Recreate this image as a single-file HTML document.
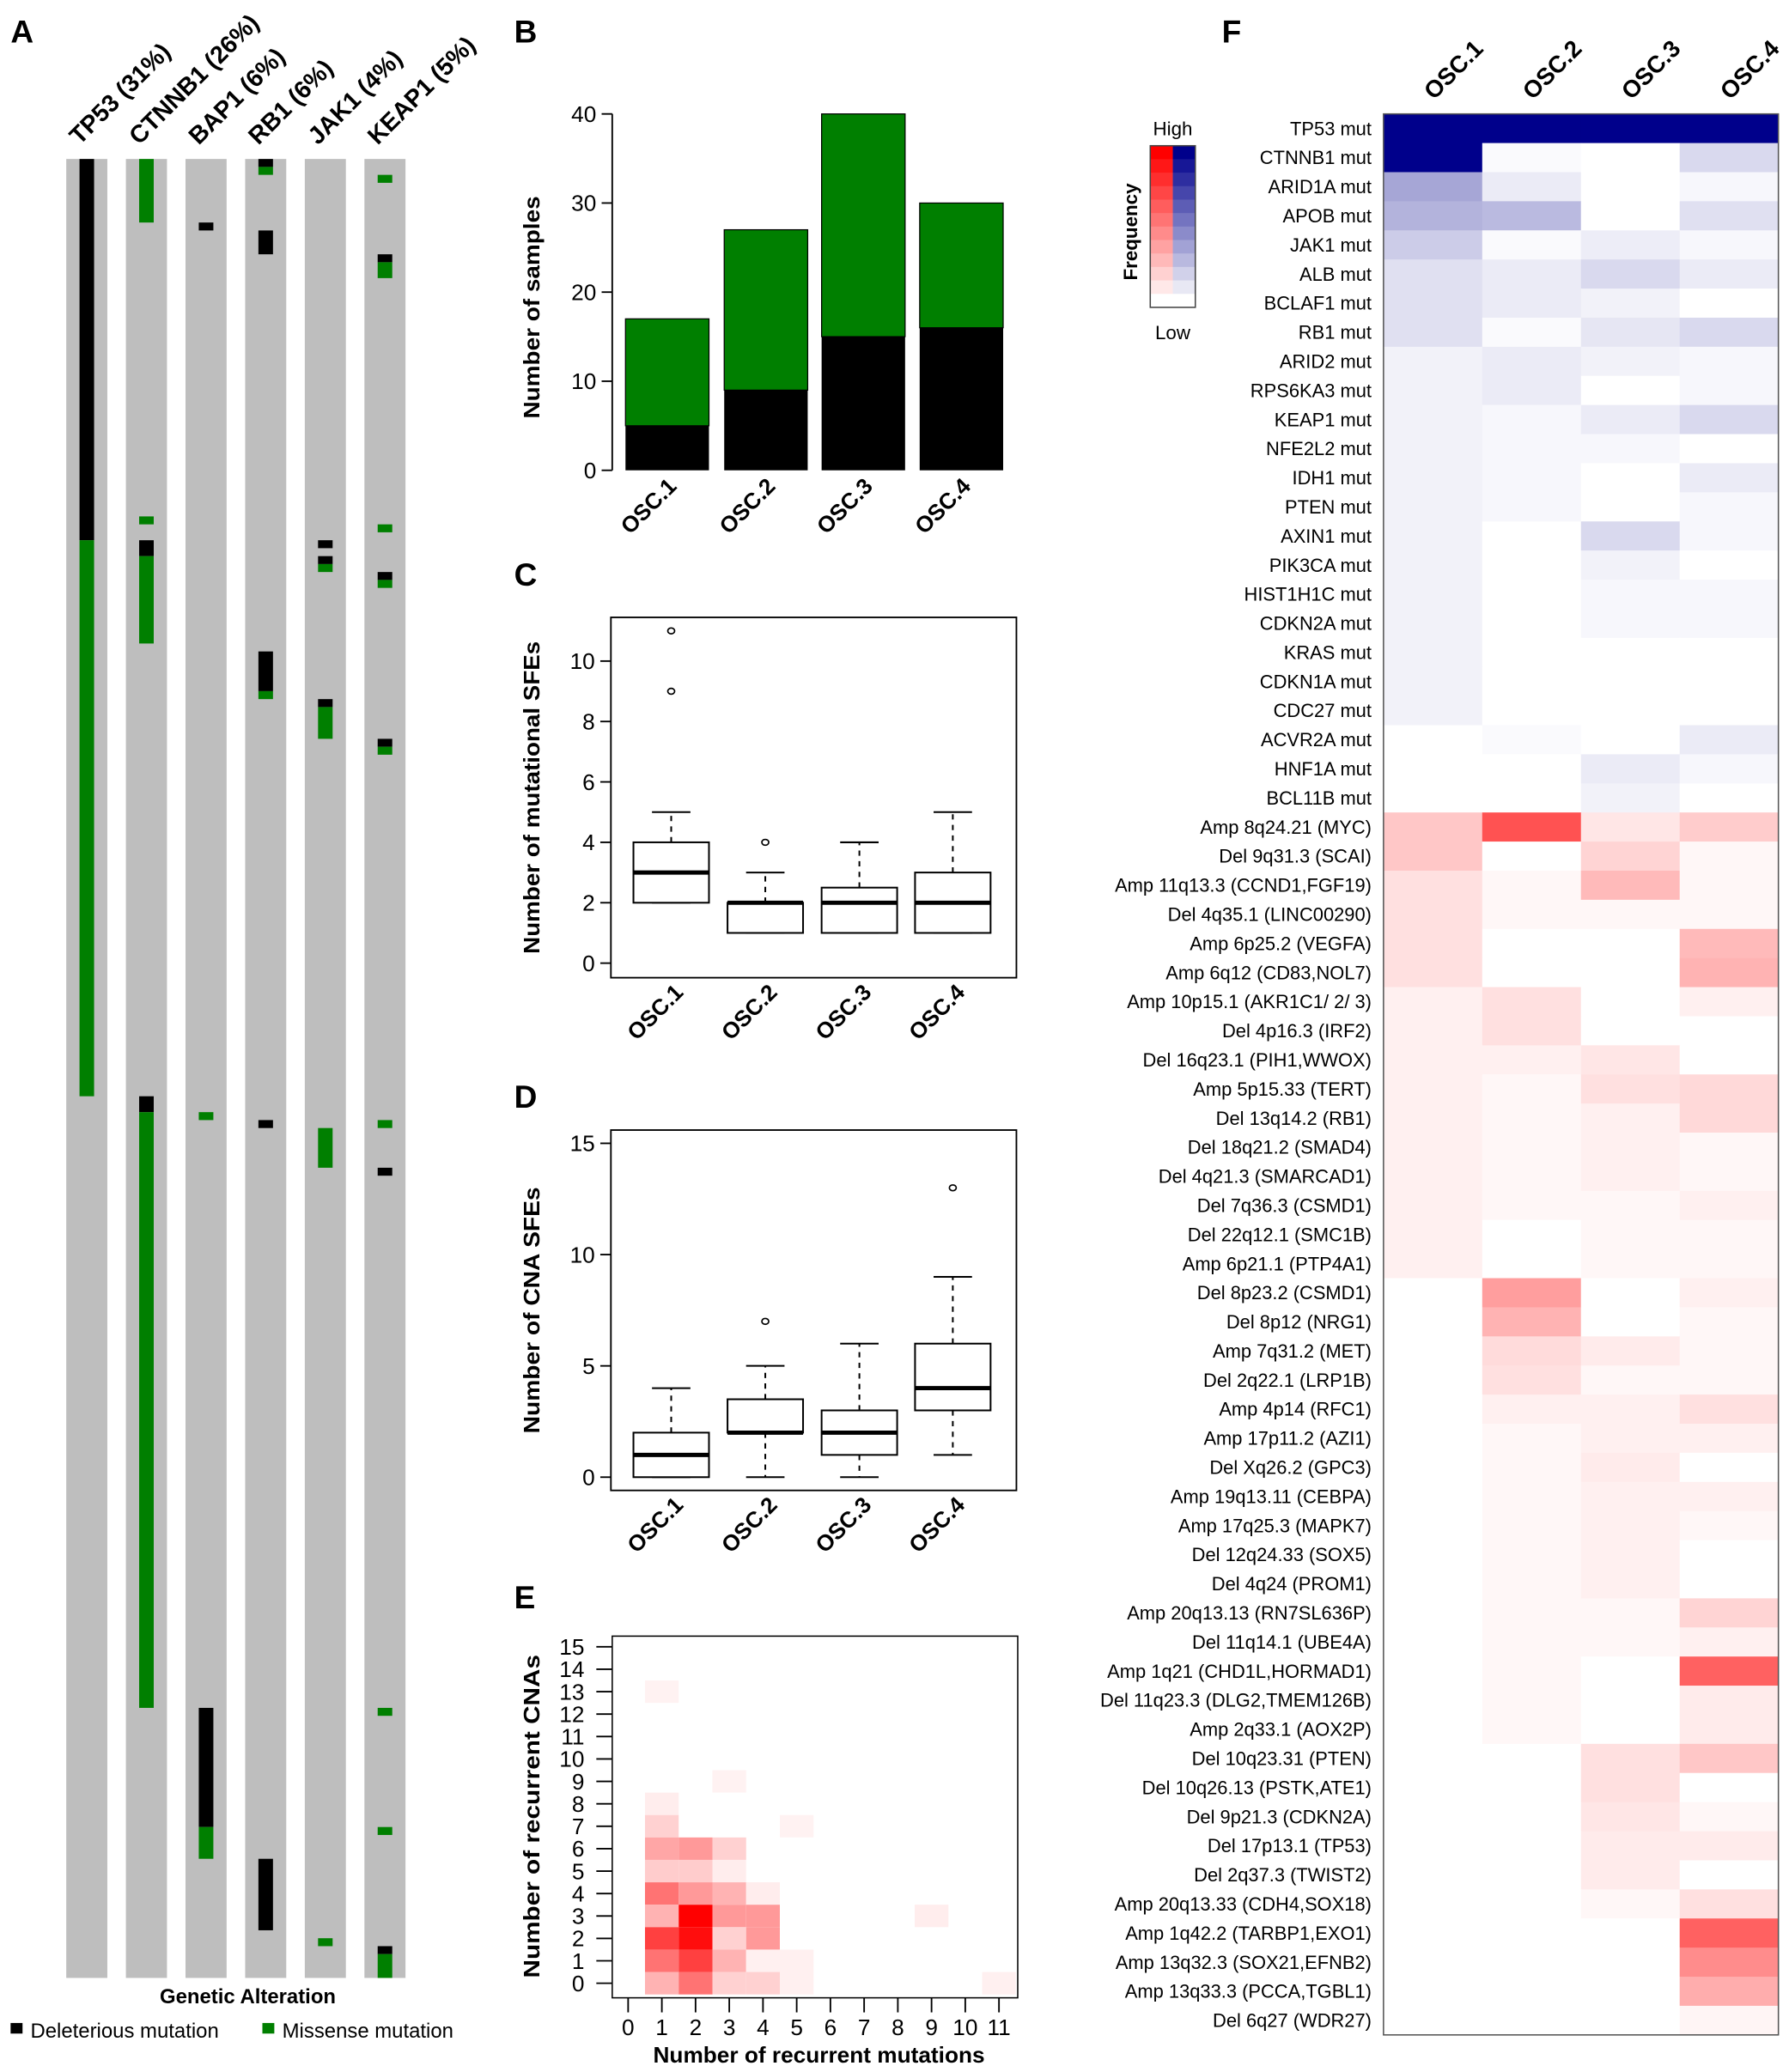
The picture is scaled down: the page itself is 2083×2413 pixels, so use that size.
<!DOCTYPE html>
<html><head><meta charset="utf-8"><style>
html,body{margin:0;padding:0;background:#fff;}
svg{display:block;font-family:"Liberation Sans",sans-serif;}
</style></head><body>
<svg id="fig" xmlns="http://www.w3.org/2000/svg" width="2083" height="2413" viewBox="0 0 1350 1564" preserveAspectRatio="none"></svg>
<script>
// ---------- DATA ----------
const geneNames = ['TP53 (31%)','CTNNB1 (26%)','BAP1 (6%)','RB1 (6%)','JAK1 (4%)','KEAP1 (5%)'];
const totalSamples = 229;
const tp53Segs = [[0,48,'D'],[48,70,'M']];
const ctnnb1Segs = [[0,8,'M'],[45,1,'M'],[48,2,'D'],[50,11,'M'],[118,2,'D'],[120,75,'M']];
const bap1Segs = [[8,1,'D'],[120,1,'M'],[195,15,'D'],[210,4,'M']];
const rb1Segs = [[0,1,'D'],[1,1,'M'],[9,3,'D'],[62,5,'D'],[67,1,'M'],[121,1,'D'],[214,9,'D']];
const jak1Segs = [[48,1,'D'],[50,1,'D'],[51,1,'M'],[68,1,'D'],[69,4,'M'],[122,5,'M'],[224,1,'M']];
const keap1Segs = [[2,1,'M'],[12,1,'D'],[13,2,'M'],[46,1,'M'],[52,1,'D'],[53,1,'M'],[73,1,'D'],[74,1,'M'],[121,1,'M'],[127,1,'D'],[195,1,'M'],[210,1,'M'],[225,1,'D'],[226,3,'M']];
const allSegs = [tp53Segs,ctnnb1Segs,bap1Segs,rb1Segs,jak1Segs,keap1Segs];

const clusters = ['OSC.1','OSC.2','OSC.3','OSC.4'];
const barDeleterious = [5,9,15,16];
const barTotal = [17,27,40,30];
const bTicks = [0,10,20,30,40];

const cBoxes = [[2,2,3,4,5],[1,1,2,2,3],[1,1,2,2.5,4],[1,1,2,3,5]]; // [lowWhisk,q1,med,q3,hiWhisk]
const cOutliers = [[9,11],[4],[],[]];
const cTicks = [0,2,4,6,8,10];

const dBoxes = [[0,0,1,2,4],[0,2,2,3.5,5],[0,1,2,3,6],[1,3,4,6,9]];
const dOutliers = [[],[7],[],[13]];
const dTicks = [0,5,10,15];

const eX = [1,1,1,1,1,1,1,1,1,2,2,2,2,2,2,3,3,3,3,3,3,3,4,4,4,4,4,5,5,5,9,11,1,2,3];
const eY = [13,8,7,6,5,4,3,2,1,6,5,4,3,2,1,9,6,5,4,3,2,1,4,3,2,1,0,7,1,0,3,0,0,0,0];
const eV = [0.05,0.07,0.18,0.35,0.2,0.55,0.3,0.75,0.55,0.4,0.2,0.4,1.0,0.95,0.75,0.05,0.18,0.07,0.3,0.4,0.18,0.3,0.07,0.4,0.4,0.06,0.18,0.05,0.06,0.06,0.07,0.06,0.3,0.55,0.18];
const eXTicks = [0,1,2,3,4,5,6,7,8,9,10,11];
const eYTicks = [0,1,2,3,4,5,6,7,8,9,10,11,12,13,14,15];

const fMutRows = ['TP53 mut','CTNNB1 mut','ARID1A mut','APOB mut','JAK1 mut','ALB mut','BCLAF1 mut','RB1 mut','ARID2 mut','RPS6KA3 mut','KEAP1 mut','NFE2L2 mut','IDH1 mut','PTEN mut','AXIN1 mut','PIK3CA mut','HIST1H1C mut','CDKN2A mut','KRAS mut','CDKN1A mut','CDC27 mut','ACVR2A mut','HNF1A mut','BCL11B mut'];
const fMutVals = [[1,1,1,1],[1,0.02,0,0.15],[0.35,0.08,0,0.03],[0.3,0.27,0,0.12],[0.2,0.02,0.07,0.03],[0.12,0.08,0.15,0.08],[0.12,0.08,0.05,0],[0.12,0.02,0.1,0.15],[0.05,0.08,0.05,0.03],[0.05,0.08,0,0.03],[0.05,0.03,0.08,0.15],[0.05,0.03,0.03,0],[0.05,0.03,0,0.08],[0.05,0.03,0,0.03],[0.05,0,0.15,0.03],[0.05,0,0.05,0],[0.05,0,0.03,0.03],[0.05,0,0.03,0.03],[0.05,0,0,0],[0.05,0,0,0],[0.05,0,0,0],[0,0.02,0,0.08],[0,0,0.08,0.03],[0,0,0.05,0]];
const fCnaRows = ['Amp 8q24.21 (MYC)','Del 9q31.3 (SCAI)','Amp 11q13.3 (CCND1,FGF19)','Del 4q35.1 (LINC00290)','Amp 6p25.2 (VEGFA)','Amp 6q12 (CD83,NOL7)','Amp 10p15.1 (AKR1C1/ 2/ 3)','Del 4p16.3 (IRF2)','Del 16q23.1 (PIH1,WWOX)','Amp 5p15.33 (TERT)','Del 13q14.2 (RB1)','Del 18q21.2 (SMAD4)','Del 4q21.3 (SMARCAD1)','Del 7q36.3 (CSMD1)','Del 22q12.1 (SMC1B)','Amp 6p21.1 (PTP4A1)','Del 8p23.2 (CSMD1)','Del 8p12 (NRG1)','Amp 7q31.2 (MET)','Del 2q22.1 (LRP1B)','Amp 4p14 (RFC1)','Amp 17p11.2 (AZI1)','Del Xq26.2 (GPC3)','Amp 19q13.11 (CEBPA)','Amp 17q25.3 (MAPK7)','Del 12q24.33 (SOX5)','Del 4q24 (PROM1)','Amp 20q13.13 (RN7SL636P)','Del 11q14.1 (UBE4A)','Amp 1q21 (CHD1L,HORMAD1)','Del 11q23.3 (DLG2,TMEM126B)','Amp 2q33.1 (AOX2P)','Del 10q23.31 (PTEN)','Del 10q26.13 (PSTK,ATE1)','Del 9p21.3 (CDKN2A)','Del 17p13.1 (TP53)','Del 2q37.3 (TWIST2)','Amp 20q13.33 (CDH4,SOX18)','Amp 1q42.2 (TARBP1,EXO1)','Amp 13q32.3 (SOX21,EFNB2)','Amp 13q33.3 (PCCA,TGBL1)','Del 6q27 (WDR27)'];
const fCnaVals = [[0.22,0.68,0.1,0.2],[0.22,0,0.17,0.03],[0.12,0.03,0.27,0.03],[0.12,0.03,0.03,0.03],[0.12,0,0,0.27],[0.12,0,0,0.3],[0.06,0.12,0,0.06],[0.06,0.12,0,0],[0.06,0.06,0.1,0],[0.06,0.03,0.12,0.15],[0.06,0.03,0.06,0.15],[0.06,0.03,0.06,0.03],[0.06,0.03,0.06,0.03],[0.06,0.03,0.03,0.06],[0.06,0,0.03,0.03],[0.06,0,0.03,0.03],[0,0.38,0,0.06],[0,0.3,0,0.03],[0,0.14,0.08,0.03],[0,0.12,0.03,0.03],[0,0.06,0.06,0.12],[0,0.03,0.06,0.06],[0,0.03,0.08,0],[0,0.03,0.06,0.06],[0,0.03,0.06,0.03],[0,0.03,0.06,0],[0,0.03,0.06,0],[0,0.03,0.03,0.17],[0,0.03,0.03,0.06],[0,0.03,0,0.62],[0,0.03,0,0.08],[0,0.03,0,0.08],[0,0,0.12,0.22],[0,0,0.12,0],[0,0,0.1,0.03],[0,0,0.08,0.08],[0,0,0.08,0],[0,0,0.03,0.12],[0,0,0,0.62],[0,0,0,0.45],[0,0,0,0.32],[0,0,0,0.04]];

// ---------- HELPERS ----------
const NS='http://www.w3.org/2000/svg';
const svg=document.getElementById('fig');
function mk(tag,parent){const e=document.createElementNS(NS,tag);(parent||svg).appendChild(e);return e;}
function at(e,o){for(const k in o)e.setAttribute(k,o[k]);return e;}
function txt(parent,s,x,y,size,anchor,weight,rot){const t=mk('text',parent);at(t,{x:x,y:y,'font-size':size,'text-anchor':anchor||'start','font-weight':weight||'normal'});if(rot!==undefined)t.setAttribute('transform','rotate('+rot+' '+x+' '+y+')');t.textContent=s;return t;}
function red(v){const c=Math.round(255*(1-v));return 'rgb(255,'+c+','+c+')';}
function blue(v){return 'rgb('+Math.round(255*(1-v))+','+Math.round(255*(1-v))+','+Math.round(255-116*v)+')';}

// ---------- PANEL LETTERS ----------
[['A',8,32],['B',388,32],['C',388,442],['D',388,836],['E',388,1214],['F',922,32]].forEach(p=>{
  const t=txt(svg,p[0],p[1],p[2],24,'start','bold');
  
  
});

// ---------- PANEL A ----------
const gA=mk('g');
const aTop=120,aBot=1493,unit=(aBot-aTop)/totalSamples;
geneNames.forEach((g,i)=>{
  const x0=50+i*45;
  const bg=at(mk('rect',gA),{x:x0,y:aTop,width:31,height:aBot-aTop,fill:'#bebebe'});
  
  
  allSegs[i].forEach(s=>{
    const r=at(mk('rect',gA),{x:x0+10,y:aTop+s[0]*unit,width:11,height:s[1]*unit,fill:s[2]==='D'?'#000':'#007f00'});
    
    
  });
  const t=txt(gA,g,x0+10,110,18.5,'start','bold',-45);
  
  
});
let t=txt(svg,'Genetic Alteration',187,1512,15.5,'middle','bold');

let r=at(mk('rect'),{x:8,y:1527,width:9,height:8,fill:'#000'});

t=txt(svg,'Deleterious mutation',23,1538,15.5);

r=at(mk('rect'),{x:198,y:1527,width:9,height:8,fill:'#007f00'});

t=txt(svg,'Missense mutation',213,1538,15.5);


// ---------- PANEL B ----------
const gB=mk('g');
const bY=v=>355-v*(355-86)/40;
const bXc=[503.5,578,651.5,725.5];
let ax=at(mk('line',gB),{x1:462,y1:bY(0),x2:462,y2:bY(40),stroke:'#000','stroke-width':1.2});

bTicks.forEach(v=>{
  const l=at(mk('line',gB),{x1:454,y1:bY(v),x2:462,y2:bY(v),stroke:'#000','stroke-width':1.2});
  
  const tt=txt(gB,String(v),450,bY(v)+6,17,'end');
  
});
clusters.forEach((c,i)=>{
  const x=bXc[i]-31.5;
  const g=at(mk('rect',gB),{x:x,y:bY(barTotal[i]),width:63,height:bY(barDeleterious[i])-bY(barTotal[i]),fill:'#007f00',stroke:'#000','stroke-width':0.8});
  
  const k=at(mk('rect',gB),{x:x,y:bY(barDeleterious[i]),width:63,height:bY(0)-bY(barDeleterious[i]),fill:'#000'});
  
  const tt=txt(gB,c,bXc[i]+8,368,17,'end','bold',-45);
  
});
t=txt(gB,'Number of samples',407,232,17,'middle','bold',-90);t.setAttribute('textLength','168');t.setAttribute('lengthAdjust','spacingAndGlyphs');


// ---------- BOX PLOTS ----------
function boxPanel(name,top,bot,y0px,yMaxPx,yMax,ticks,boxes,outs,title,titleLen){
  const g=mk('g');
  const Y=v=>y0px-v*(y0px-yMaxPx)/yMax;
  const fr=at(mk('rect',g),{x:461,y:top,width:306,height:bot-top,fill:'none',stroke:'#000','stroke-width':1.2});
  
  ticks.forEach(v=>{
    const l=at(mk('line',g),{x1:453,y1:Y(v),x2:461,y2:Y(v),stroke:'#000','stroke-width':1.2});
    
    const tt=txt(g,String(v),449,Y(v)+6,17,'end');
    
  });
  const xc=[506.5,577.5,648.5,719];
  boxes.forEach((b,i)=>{
    const x=xc[i];
    const w1=at(mk('line',g),{x1:x,y1:Y(b[3]),x2:x,y2:Y(b[4]),stroke:'#000','stroke-width':1.3,'stroke-dasharray':'4,4'});
    
    const w2=at(mk('line',g),{x1:x,y1:Y(b[1]),x2:x,y2:Y(b[0]),stroke:'#000','stroke-width':1.3,'stroke-dasharray':'4,4'});
    
    const c1=at(mk('line',g),{x1:x-14.5,y1:Y(b[4]),x2:x+14.5,y2:Y(b[4]),stroke:'#000','stroke-width':1.3});
    
    const c2=at(mk('line',g),{x1:x-14.5,y1:Y(b[0]),x2:x+14.5,y2:Y(b[0]),stroke:'#000','stroke-width':1.3});
    
    const bx=at(mk('rect',g),{x:x-28.5,y:Y(b[3]),width:57,height:Math.max(Y(b[1])-Y(b[3]),0.1),fill:'#fff',stroke:'#000','stroke-width':1.3});
    
    const md=at(mk('line',g),{x1:x-28.5,y1:Y(b[2]),x2:x+28.5,y2:Y(b[2]),stroke:'#000','stroke-width':3.2});
    
    outs[i].forEach(o=>{
      const c=at(mk('ellipse',g),{cx:x,cy:Y(o),rx:2.6,ry:2.2,fill:'none',stroke:'#000','stroke-width':1.1});
      
    });
    const tt=txt(g,clusters[i],x+10,bot+12,17,'end','bold',-45);
    
  });
  const at2=txt(g,title,407,(top+bot)/2,17,'middle','bold',-90);at2.setAttribute('textLength',titleLen);at2.setAttribute('lengthAdjust','spacingAndGlyphs');
  
}
boxPanel('panel-c-box-plot',466,738,727,499,10,cTicks,cBoxes,cOutliers,'Number of mutational SFEs',236);
boxPanel('panel-d-box-plot',853,1125,1115,863,15,dTicks,dBoxes,dOutliers,'Number of CNA SFEs',186);

// ---------- PANEL E ----------
const gE=mk('g');
const eXs=v=>474+v*25.44, eYs=v=>1497-v*16.93;
eX.forEach((xv,i)=>{
  const c=at(mk('rect',gE),{x:eXs(xv)-12.72,y:eYs(eY[i])-8.47,width:25.44,height:16.93,fill:red(eV[i])});
  
});
const ef=at(mk('rect',gE),{x:462,y:1235,width:306,height:273,fill:'none',stroke:'#000','stroke-width':1});

eXTicks.forEach(v=>{
  const l=at(mk('line',gE),{x1:eXs(v),y1:1508,x2:eXs(v),y2:1519,stroke:'#000','stroke-width':1.2});
  
  const tt=txt(gE,String(v),eXs(v),1536,17,'middle');
  
});
eYTicks.forEach(v=>{
  const l=at(mk('line',gE),{x1:450,y1:eYs(v),x2:462,y2:eYs(v),stroke:'#000','stroke-width':1.2});
  
  const tt=txt(gE,String(v),441,eYs(v)+6,17,'end');
  
});
t=txt(gE,'Number of recurrent mutations',618,1557,17,'middle','bold');

t=txt(gE,'Number of recurrent CNAs',407,1371,17,'middle','bold',-90);t.setAttribute('textLength','244');t.setAttribute('lengthAdjust','spacingAndGlyphs');


// ---------- PANEL F ----------
const gF=mk('g');
const fL=1044,fR=1342,fT=86,fB=1536;
const rowH=(fB-fT)/(fMutRows.length+fCnaRows.length), colW=(fR-fL)/4;
fMutRows.forEach((name,i)=>{
  fMutVals[i].forEach((v,j)=>{
    const c=at(mk('rect',gF),{x:fL+j*colW,y:fT+i*rowH,width:colW+0.3,height:rowH+0.3,fill:blue(v)});
    
  });
  const tt=txt(gF,name,1035,fT+i*rowH+rowH/2+5,14.2,'end');
  
});
fCnaRows.forEach((name,k)=>{
  const i=k+fMutRows.length;
  fCnaVals[k].forEach((v,j)=>{
    const c=at(mk('rect',gF),{x:fL+j*colW,y:fT+i*rowH,width:colW+0.3,height:rowH+0.3,fill:red(v)});
    
  });
  const tt=txt(gF,name,1035,fT+i*rowH+rowH/2+5,14.2,'end');
  
});
const ff=at(mk('rect',gF),{x:fL,y:fT,width:fR-fL,height:fB-fT,fill:'none',stroke:'#555','stroke-width':1});

clusters.forEach((c,j)=>{
  const tt=txt(gF,c,fL+j*colW+38,76,18,'start','bold',-45);
  
});
// legend
const gL=mk('g');
const nSteps=12;
for(let s=0;s<nSteps;s++){
  const v=1-s/(nSteps-1);
  const a=at(mk('rect',gL),{x:868,y:110+s*(122/nSteps),width:17,height:122/nSteps+0.3,fill:red(v)});
  
  const b=at(mk('rect',gL),{x:885,y:110+s*(122/nSteps),width:17,height:122/nSteps+0.3,fill:blue(v)});
  
}
r=at(mk('rect',gL),{x:868,y:110,width:34,height:122,fill:'none',stroke:'#444','stroke-width':1});

t=txt(gL,'High',885,102,14.5,'middle');
t=txt(gL,'Low',885,256,14.5,'middle');
t=txt(gL,'Frequency',858,175,14.5,'middle','bold',-90);
</script>
</body></html>
